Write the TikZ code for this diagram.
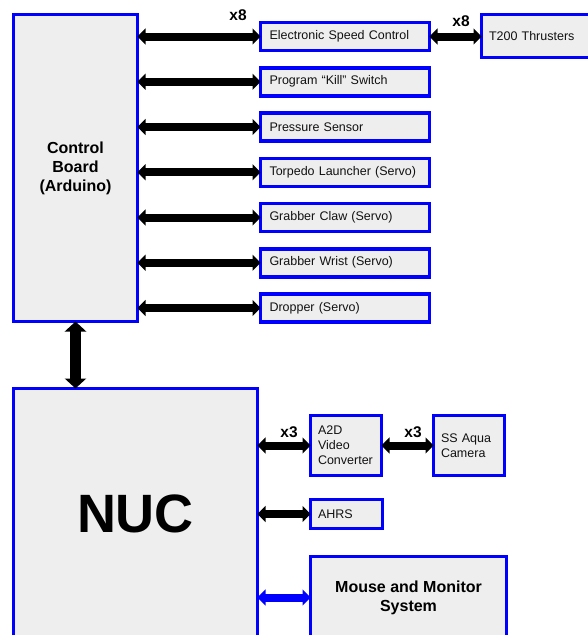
\documentclass[tikz,border=0pt]{standalone}
\usepackage{fontspec}
\setmainfont{Liberation Sans}
\usetikzlibrary{arrows.meta}
\definecolor{boxfill}{HTML}{EEEEEE}
\definecolor{boxblue}{HTML}{0000FF}
\definecolor{txt}{HTML}{111111}
\tikzset{
  blk/.style={draw=boxblue, line width=3.5pt, fill=boxfill, outer sep=0pt, inner sep=0pt, text=txt},
  smallbox/.style={blk, anchor=west, minimum height=28pt, text width=151pt, inner xsep=9pt, align=left, font=\fontsize{12.5}{15}\selectfont},
  dbl/.style={line width=8pt, {Triangle[length=8pt,width=16pt]}-{Triangle[length=8pt,width=16pt]}},
  vdbl/.style={line width=11pt, {Triangle[length=10pt,width=21pt]}-{Triangle[length=10pt,width=21pt]}},
  mult/.style={font=\bfseries\fontsize{15.5}{18}\selectfont, text=black, inner sep=0pt}
}
\begin{document}
\begin{tikzpicture}[x=1pt,y=-1pt]
\useasboundingbox (0,0) rectangle (588,635);
\clip (0,0) rectangle (588,635);
% control board
\node[blk, minimum width=124pt, minimum height=307pt, align=center, text=black, font=\bfseries\fontsize{16}{19}\selectfont] (cb) at (75.5,168) {\raisebox{-2pt}{\parbox{120pt}{\centering Control\\Board\\(Arduino)}}};
% small boxes
\node[smallbox] (esc) at (260.5,36.5) {Electronic Speed Control};
\node[smallbox] (kill) at (260.5,81.75) {Program “Kill” Switch};
\node[smallbox] (press) at (260.5,127) {Pressure Sensor};
\node[smallbox] (torp) at (260.5,172.25) {Torpedo Launcher (Servo)};
\node[smallbox] (claw) at (260.5,217.5) {Grabber Claw (Servo)};
\node[smallbox] (wrist) at (260.5,262.75) {Grabber Wrist (Servo)};
\node[smallbox] (drop) at (260.5,308) {Dropper (Servo)};
\node[blk, anchor=west, minimum height=43pt, text width=123pt, inner xsep=7.5pt, align=left, font=\fontsize{12.5}{15}\selectfont] (t200) at (481.5,36) {T200 Thrusters};
% NUC
\node[blk, minimum width=244pt, minimum height=250pt, text=black, font=\bfseries\fontsize{54}{60}\selectfont] (nuc) at (135.5,513.5) {NUC};
\node[blk, minimum height=60pt, text width=56pt, inner xsep=7.5pt, align=left, font=\fontsize{12.5}{15}\selectfont] (a2d) at (346,445.5) {A2D\\Video\\Converter};
\node[blk, minimum height=60pt, text width=56pt, inner xsep=7.5pt, align=left, font=\fontsize{12.5}{15}\selectfont] (cam) at (469,445.5) {SS Aqua\\Camera};
\node[blk, minimum height=29pt, text width=57pt, inner xsep=7.5pt, align=left, font=\fontsize{12.5}{15}\selectfont] (ahrs) at (346.5,514) {AHRS};
\node[blk, minimum width=196pt, minimum height=82pt, align=center, text=black, font=\bfseries\fontsize{16}{19}\selectfont] (mouse) at (408.5,597.5) {Mouse and Monitor\\System};
% arrows
\foreach \b in {esc,kill,press,torp,claw,wrist,drop}
  \draw[dbl] (cb.east |- \b.west) -- (\b.west);
\draw[dbl] (esc.east) -- (esc.east -| t200.west);
\draw[vdbl] (cb.south) -- (cb.south |- nuc.north);
\draw[dbl] (nuc.east |- a2d.west) -- (a2d.west);
\draw[dbl] (a2d.east) -- (cam.west);
\draw[dbl] (nuc.east |- ahrs.west) -- (ahrs.west);
\draw[dbl, draw=boxblue, fill=boxblue] (nuc.east |- mouse.west) -- (mouse.west);
% multiplicity labels
\node[mult] (m1) at (238,15) {x8};
\node[mult] (m2) at (461,21) {x8};
\node[mult] (m3) at (289,432) {x3};
\node[mult] (m4) at (413,432) {x3};
\end{tikzpicture}
\end{document}
